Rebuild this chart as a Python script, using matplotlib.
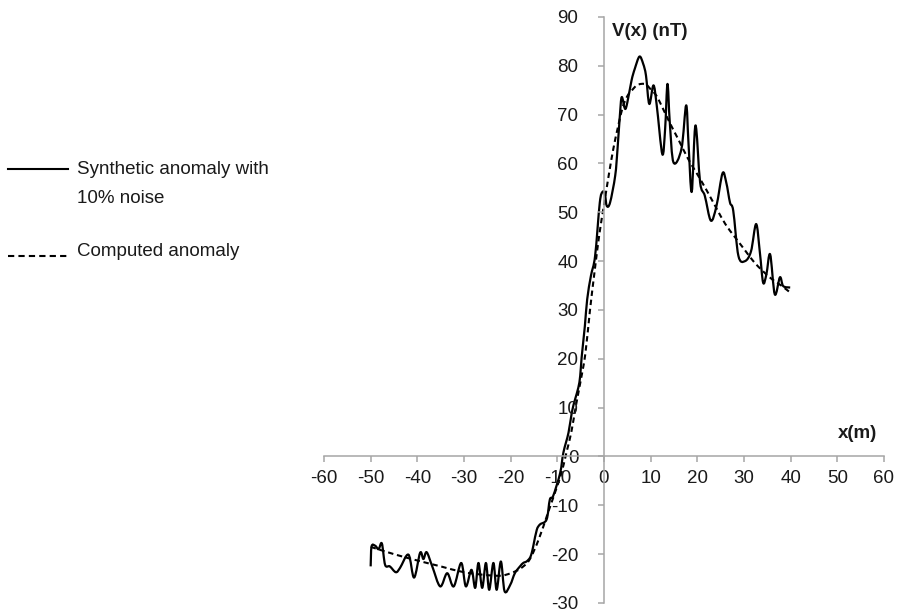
import matplotlib
matplotlib.use("Agg")
import matplotlib.pyplot as plt
from matplotlib.lines import Line2D
from matplotlib.path import Path
from matplotlib.patches import PathPatch
import numpy as np

plt.rcParams['font.family'] = ['Liberation Sans', 'DejaVu Sans']
plt.rcParams['axes.unicode_minus'] = False

# Synthetic anomaly with 10% noise (x in m, V in nT)
noisy_x = [-50, -49.8, -49, -48.3, -47.6, -46.9, -45.9, -44.6, -43.7, -41.9,
           -40.7, -39.4, -38.7, -38, -36.8, -35.1, -33.6, -32.2, -30.6, -29.6,
           -28.4, -27.6, -26.9, -26.1, -25.3, -24.6, -23.7, -23, -22.1, -21.3,
           -20.1, -19.1, -18, -17.3, -16.6, -15.9, -15.5, -15.1, -14.4, -13.7,
           -12.3, -11.6, -10.9, -9.4, -8.7, -7.6, -6.9, -6.2, -5.5, -5.1,
           -4.8, -4.1, -3.6, -2.8, -1.9, -0.9, -0.3, 0.2, 0.6, 1.3,
           2.4, 2.9, 3.4, 3.8, 4.5, 5.0, 5.9, 6.6, 7.6, 8.4,
           9.0, 9.7, 10.6, 11.3, 12.5, 13.1, 13.6, 14.1, 14.9, 16.6,
           17.6, 18.1, 18.8, 19.6, 20.6, 21.6, 22.9, 24.1, 25.4, 26.2,
           27.0, 27.7, 28.8, 30.2, 31.5, 32.6, 33.4, 34.1, 34.8, 35.6,
           36.6, 37.7, 38.4, 39.9]
noisy_v = [-22.5, -18.4, -18.3, -19.0, -17.8, -22.2, -22.5, -23.7, -22.8, -20.1,
           -24.8, -19.7, -21.0, -19.6, -22.5, -26.6, -23.9, -26.6, -21.8, -26.6,
           -23.2, -26.9, -21.8, -26.9, -21.8, -27.3, -21.8, -27.3, -21.5, -27.6,
           -26.3, -23.9, -22.5, -21.8, -21.5, -20.8, -19.8, -18.1, -15.0, -13.9,
           -12.9, -8.8, -8.1, -3.4, 0.8, 4.9, 9.0, 11.7, 14.1, 16.5,
           20.2, 26.7, 32.2, 37.0, 41.1, 52.0, 54.2, 53.7, 51.3, 52.0,
           57.5, 63.0, 69.8, 73.6, 71.2, 72.5, 77.0, 79.4, 81.9, 80.4,
           78.0, 72.2, 76.0, 71.9, 61.9, 67.1, 76.3, 68.4, 60.2, 63.0,
           71.9, 64.3, 54.2, 67.8, 56.1, 53.4, 48.3, 51.3, 58.0, 56.1,
           52.0, 50.3, 41.1, 40.0, 42.0, 47.6, 41.8, 35.6, 37.3, 41.4,
           33.2, 36.7, 34.9, 34.6]

# Computed anomaly
comp_x = [-50, -45, -40, -35, -30, -25, -22, -20, -18, -16,
          -14, -12, -10, -9, -8, -7, -6, -5, -4, -3,
          -2, -1, 0, 1, 2, 3, 4, 5, 6, 7,
          8, 9, 10, 11, 12, 14, 16, 18, 20, 22,
          24, 26, 28, 30, 32, 34, 36, 38, 40]
comp_v = [-18.5, -20.0, -21.3, -22.5, -23.7, -24.3, -24.4, -23.9, -23.0, -21.2,
          -17.0, -11.5, -6.0, -3.0, 1.0, 5.0, 10.5, 15.5, 21.0, 30.0,
          38.0, 45.5, 51.5, 57.5, 63.0, 67.5, 71.5, 73.8, 75.0, 76.0,
          76.3, 76.2, 75.2, 74.2, 72.5, 68.5, 64.8, 61.0, 57.8, 54.5,
          51.0, 47.6, 45.0, 42.5, 40.0, 38.0, 36.3, 35.0, 33.5]

x_ticks = list(range(-60, 61, 10))
y_ticks = list(range(-30, 91, 10))
legend_labels = ["Synthetic anomaly with\n10% noise", "Computed anomaly"]


def smooth_path(xs, ys):
    """Spreadsheet-style smoothed line: cubic Bezier segments through the points."""
    p = np.column_stack([xs, ys]).astype(float)
    n = len(p)
    verts = [p[0]]
    codes = [Path.MOVETO]
    for i in range(n - 1):
        p0 = p[i - 1] if i > 0 else p[i]
        p1, p2 = p[i], p[i + 1]
        p3 = p[i + 2] if i + 2 < n else p[i + 1]
        c1 = p1 + (p2 - p0) / 6.0
        c2 = p2 - (p3 - p1) / 6.0
        verts += [c1, c2, p2]
        codes += [Path.CURVE4] * 3
    return Path(verts, codes)


fig = plt.figure(figsize=(8.97, 6.14), dpi=100)
ax = fig.add_axes([0.3612, 0.01792, 0.6243, 0.9544])

ax.add_patch(PathPatch(smooth_path(noisy_x, noisy_v), fill=False,
                       edgecolor='black', lw=1.6, joinstyle='round',
                       transform=ax.transData))
ax.add_patch(PathPatch(smooth_path(comp_x, comp_v), fill=False,
                       edgecolor='black', lw=1.5, linestyle=(0, (2.6, 1.8)),
                       transform=ax.transData))

ax.set_xlim(-60, 60)
ax.set_ylim(-30, 90)
ax.set_xticks(x_ticks)
ax.set_yticks(y_ticks)

for s in ['top', 'right']:
    ax.spines[s].set_visible(False)
ax.spines['left'].set_position(('data', 0))
ax.spines['bottom'].set_position(('data', 0))
for s in ['left', 'bottom']:
    ax.spines[s].set_color('#A6A6A6')
    ax.spines[s].set_linewidth(1.1)
ax.patch.set_visible(False)

ax.tick_params(axis='both', direction='out', length=4.5, width=1.1,
               color='#A6A6A6', labelsize=13.5, labelcolor='#1a1a1a')
ax.tick_params(axis='y', pad=14)
ax.tick_params(axis='x', pad=5)

ax.text(1.7, 87, "V(x) (nT)", fontsize=13.5, fontweight='bold',
        ha='left', va='center', color='#1a1a1a')
ax.text(58.5, 4.7, "x(m)", fontsize=13.5, fontweight='bold',
        ha='right', va='center', color='#1a1a1a')

# Legend drawn at left of the figure
W, H = 897.0, 614.0
fig.add_artist(Line2D([8 / W, 68 / W], [1 - 169 / H, 1 - 169 / H],
                      color='black', lw=1.5))
fig.text(77 / W, 1 - 170 / H, legend_labels[0].split("\n")[0],
         fontsize=13.5, ha='left', va='center', color='#1a1a1a')
fig.text(77 / W, 1 - 199 / H, legend_labels[0].split("\n")[1],
         fontsize=13.5, ha='left', va='center', color='#1a1a1a')
fig.add_artist(Line2D([8 / W, 68 / W], [1 - 256 / H, 1 - 256 / H],
                      color='black', lw=1.5, dashes=(3.0, 2.0)))
fig.text(77 / W, 1 - 252 / H, legend_labels[1],
         fontsize=13.5, ha='left', va='center', color='#1a1a1a')

fig.savefig("out.png", dpi=100)
